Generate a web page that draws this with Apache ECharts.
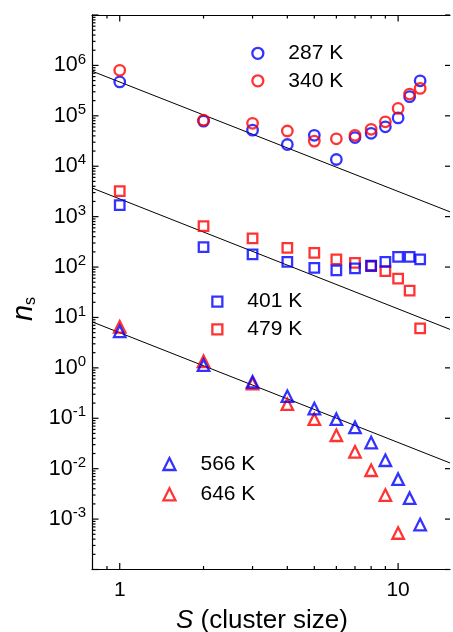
<!DOCTYPE html>
<html><head><meta charset="utf-8">
<script src="https://cdn.jsdelivr.net/npm/echarts@6/dist/echarts.min.js"></script>
<style>html,body{margin:0;padding:0;background:#fff}#c{width:453px;height:632px}</style>
</head><body><div id="c"></div>
<script>
// ---- data ----
const clusterSize = [1, 2, 3, 4, 5, 6, 7, 8, 9, 10, 11, 12];
const ns287 = [4.7e5, 7.85e4, 5.2e4, 2.7e4, 4.1e4, 1.36e4, 3.7e4, 4.5e4, 6.05e4, 9.1e4, 2.4e5, 4.95e5];
const ns340 = [8.0e5, 8.2e4, 7.1e4, 5.0e4, 3.15e4, 3.5e4, 4.1e4, 5.4e4, 7.6e4, 1.4e5, 2.7e5, 3.5e5];
const ns401 = [1.69e3, 248, 178, 127, 96, 86, 94, 106, 127, 159, 159, 142];
const ns479 = [3.2e3, 648, 369, 240, 191, 142, 121, 105, 83, 59, 34, 6.1];
const ns566 = [5.3, 1.13, 0.53, 0.274, 0.156, 0.096, 0.066, 0.033, 0.0147, 0.0062, 0.0026, 0.00078];
const ns646 = [6.5, 1.35, 0.49, 0.19, 0.096, 0.046, 0.0216, 0.0093, 0.003, 0.00053];
const fitS = [0.795, 15.36];
const fitTop = [7.7e5, 1245];
const fitMid = [3.7e3, 5.8];
const fitLow = [8.2, 0.013];
const seriesNames = ['287 K', '340 K', '401 K', '479 K', '566 K', '646 K'];
// axes / ticks
const xRange = [0.795, 15.36];
const yRange = [1e-4, 1e7];
const xTickValues = [0.9, 1, 2, 3, 4, 5, 6, 7, 8, 9, 10];
const xMajorTicks = [1, 10];
const xTickLabels = ['1', '10'];
const yDecadeExps = [-4, -3, -2, -1, 0, 1, 2, 3, 4, 5, 6, 7];
const yLabelExps = [-3, -2, -1, 0, 1, 2, 3, 4, 5, 6];
const yMinorMantissas = [2, 3, 4, 5, 6, 7, 8, 9];

const FONT = "'Liberation Sans', Arial, Helvetica, sans-serif";
const BLUE = '#0000ff', RED = '#ff0000';

function pairs(xs, ys) { return ys.map((y, i) => [xs[i], y]); }

const xTickData = xTickValues.map(v => [v, 1, xMajorTicks.indexOf(v) >= 0 ? 1 : 0]);
const yTickData = [];
yDecadeExps.forEach(e => {
  yTickData.push([1, Math.pow(10, e), 1]);
  if (e < yDecadeExps[yDecadeExps.length - 1]) {
    yMinorMantissas.forEach(m => yTickData.push([1, m * Math.pow(10, e), 0]));
  }
});

const TICK_W = 1.2;
function renderXTicks(params, api) {
  const cs = params.coordSys;
  const major = api.value(2) === 1;
  const len = major ? 6.5 : 3.5;
  const x = api.coord([api.value(0), 1])[0];
  const b = cs.y + cs.height, t = cs.y;
  return { type: 'group', children: [
    { type: 'line', shape: { x1: x, y1: b, x2: x, y2: b - len }, style: { stroke: '#000', lineWidth: TICK_W } },
    { type: 'line', shape: { x1: x, y1: t, x2: x, y2: t + len }, style: { stroke: '#000', lineWidth: TICK_W } }
  ]};
}
function renderYTicks(params, api) {
  const cs = params.coordSys;
  const major = api.value(2) === 1;
  const len = major ? 6.5 : 3.5;
  const y = api.coord([1, api.value(1)])[1];
  const l = cs.x, r = cs.x + cs.width;
  const children = [
    { type: 'line', shape: { x1: l, y1: y, x2: l + len, y2: y }, style: { stroke: '#000', lineWidth: TICK_W } }
  ];
  if (major) children.push({ type: 'line', shape: { x1: r, y1: y, x2: r - 5, y2: y }, style: { stroke: '#000', lineWidth: TICK_W } });
  return { type: 'group', children };
}

function scatter(name, data, symbol, size, color) {
  return {
    type: 'scatter', name, data, symbol, symbolSize: size,
    itemStyle: { color: 'rgba(0,0,0,0)', borderColor: color, borderWidth: 2.3 },
    emphasis: { disabled: true }, silent: true, clip: false
  };
}
function fitLine(ys) {
  return { type: 'line', data: pairs(fitS, ys), symbol: 'none', silent: true,
    lineStyle: { color: '#000', width: 1 }, z: 1 };
}
function legendItem(name, icon, color) {
  return { name, icon, itemStyle: { color: 'rgba(0,0,0,0)', borderColor: color, borderWidth: 2.3 } };
}
function legendBox(left, top, gap, size, items) {
  return {
    left, top, orient: 'vertical', padding: 0, itemGap: gap, itemWidth: size, itemHeight: size,
    selectedMode: false, data: items,
    textStyle: { fontSize: 21, color: '#000', fontFamily: FONT, padding: [0, 0, 0, 20] }
  };
}

const chart = echarts.init(document.getElementById('c'), null, { renderer: 'canvas' });
chart.setOption({
  animation: false,
  backgroundColor: '#fff',
  textStyle: { fontFamily: FONT },
  grid: { left: 92, top: 15, right: 0, bottom: 62.5, containLabel: false },
  xAxis: [{
    type: 'log', min: xRange[0], max: xRange[1],
    axisLine: { show: true, lineStyle: { color: '#000', width: 1.2 } },
    axisTick: { show: false }, splitLine: { show: false }, minorTick: { show: false },
    axisLabel: {
      margin: 10, fontSize: 21, color: '#000', fontFamily: FONT,
      formatter: v => {
        for (let i = 0; i < xMajorTicks.length; i++) if (Math.abs(v - xMajorTicks[i]) < 1e-6 * xMajorTicks[i]) return xTickLabels[i];
        return '';
      }
    }
  }, {
    type: 'log', min: xRange[0], max: xRange[1], position: 'top',
    axisLine: { show: true, lineStyle: { color: '#000', width: 1.2 } },
    axisTick: { show: false }, axisLabel: { show: false }, splitLine: { show: false }
  }],
  yAxis: {
    type: 'log', min: yRange[0], max: yRange[1], interval: 1,
    axisLine: { show: true, lineStyle: { color: '#000', width: 1.2 } },
    axisTick: { show: false }, splitLine: { show: false }, minorTick: { show: false },
    axisLabel: {
      margin: 6, color: '#000',
      formatter: v => {
        const e = Math.round(Math.log10(v));
        if (yLabelExps.indexOf(e) < 0) return '';
        return '{b|10}{s|' + e + '}';
      },
      rich: {
        b: { fontSize: 21.5, fontFamily: FONT, color: '#000' },
        s: { fontSize: 15, fontFamily: FONT, color: '#000', padding: [0, 0, 12, 0] }
      }
    }
  },
  legend: [
    legendBox(251.2, 42.8, 6.5, 11, [legendItem(seriesNames[0], 'circle', BLUE), legendItem(seriesNames[1], 'circle', RED)]),
    legendBox(211.2, 291.2, 6.6, 10, [legendItem(seriesNames[2], 'rect', BLUE), legendItem(seriesNames[3], 'rect', RED)]),
    legendBox(162.3, 453.5, 9.3, 12, [legendItem(seriesNames[4], 'triangle', BLUE), legendItem(seriesNames[5], 'triangle', RED)])
  ],
  graphic: [
    { type: 'text', x: 262, y: 621, silent: true,
      style: { text: '{i|S} (cluster size)', align: 'center', verticalAlign: 'middle',
        rich: { i: { fontStyle: 'italic', fontSize: 26, fontFamily: FONT, fill: '#000' } },
        fontSize: 26, fontFamily: FONT, fill: '#000' } },
    { type: 'text', x: 24, y: 309, rotation: Math.PI / 2, silent: true,
      style: { text: '{n|n}{s|s}', align: 'center', verticalAlign: 'middle',
        rich: {
          n: { fontStyle: 'italic', fontSize: 29, fontFamily: FONT, fill: '#000' },
          s: { fontSize: 16, fontFamily: FONT, fill: '#000', padding: [13, 0, 0, 0] }
        } } }
  ],
  series: [
    fitLine(fitTop), fitLine(fitMid), fitLine(fitLow),
    scatter(seriesNames[0], pairs(clusterSize, ns287), 'circle', 10.5, BLUE),
    scatter(seriesNames[1], pairs(clusterSize, ns340), 'circle', 10.5, RED),
    scatter(seriesNames[3], pairs(clusterSize, ns479), 'rect', 9.5, RED),
    scatter(seriesNames[2], pairs(clusterSize, ns401), 'rect', 9.5, BLUE),
    scatter(seriesNames[5], pairs(clusterSize, ns646), 'triangle', 11.5, RED),
    scatter(seriesNames[4], pairs(clusterSize, ns566), 'triangle', 11.5, BLUE),
    { type: 'custom', data: xTickData, renderItem: renderXTicks, silent: true, clip: false, z: 5 },
    { type: 'custom', data: yTickData, renderItem: renderYTicks, silent: true, clip: false, z: 5 }
  ]
});
</script>
</body></html>
